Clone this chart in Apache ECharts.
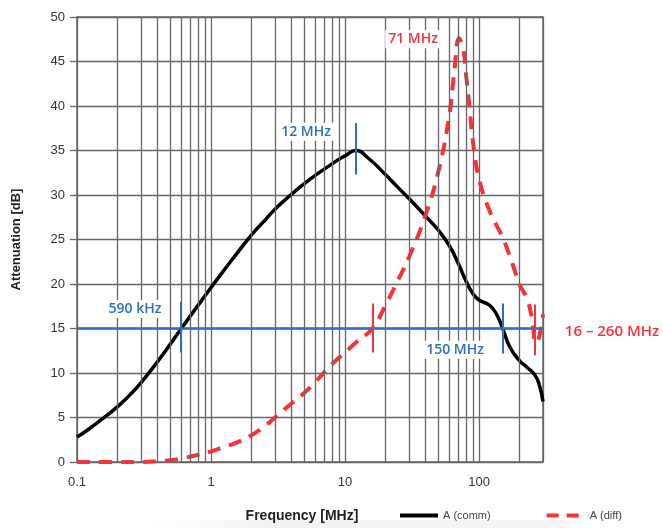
<!DOCTYPE html>
<html>
<head>
<meta charset="utf-8">
<script src="https://cdn.jsdelivr.net/npm/echarts@6/dist/echarts.min.js"></script>
<style>
  html, body { margin: 0; padding: 0; background: #fff; }
  #chart { width: 663px; height: 528px; }
</style>
</head>
<body>
<div id="chart"></div>
<script>
// common-mode attenuation
const freqComm = [0.1, 0.12, 0.15, 0.2, 0.25, 0.3, 0.4, 0.5, 0.6, 0.8, 1, 1.2, 1.5, 2, 2.5, 3, 4, 5, 6, 8, 10, 12, 15, 20, 25, 30, 40, 50, 60, 70, 80, 90, 100, 120, 135, 150, 170, 200, 230, 260, 280, 300];
const attComm = [2.8, 3.6, 4.7, 6.2, 7.6, 8.9, 11.3, 13.3, 15.0, 17.6, 19.6, 21.2, 23.1, 25.5, 27.1, 28.4, 30.1, 31.3, 32.2, 33.5, 34.4, 35.0, 34.1, 32.3, 30.8, 29.6, 27.6, 26.0, 24.3, 22.3, 20.3, 18.9, 18.2, 17.6, 16.6, 15.0, 12.9, 11.4, 10.6, 9.8, 8.8, 6.8];

// differential-mode attenuation
const freqDiff = [0.1, 0.2, 0.3, 0.4, 0.5, 0.6, 0.8, 1, 1.2, 1.5, 2, 2.5, 3, 4, 5, 6, 8, 10, 12, 16, 20, 25, 30, 40, 50, 60, 65, 71, 76, 80, 85, 90, 100, 120, 150, 180, 200, 230, 250, 265, 280, 300];
const attDiff = [0, 0, 0, 0.1, 0.2, 0.4, 0.8, 1.2, 1.6, 2.1, 3.0, 4.0, 5.0, 6.6, 7.8, 9.0, 11.0, 12.3, 13.4, 15.0, 17.6, 20.5, 23.0, 27.8, 32.8, 39.0, 43.5, 47.6, 46.5, 43.5, 39.8, 36.0, 31.8, 28.2, 25.2, 22.0, 20.0, 18.2, 15.8, 13.4, 14.0, 16.6];

const xTickLabels = [0.1, 1, 10, 100];
const minorFreqs = [0.2, 0.3, 0.4, 0.5, 0.6, 0.7, 0.8, 0.9, 2, 3, 4, 5, 6, 7, 8, 9, 20, 30, 40, 50, 60, 70, 80, 90, 200];

const limitLevel = 15;
const blueMarks = [0.59, 12, 150];
const redMarks = [16, 260];

const BLUE = '#2f6fba';
const RED = '#f4333a';
const GRID = '#666';

const chart = echarts.init(document.getElementById('chart'));

const zip = (xs, ys) => xs.map((x, i) => [x, ys[i]]);
const tick = (f, y0, y1, color) => [
  { coord: [f, y0], lineStyle: { color: color, width: 2, type: 'solid' } },
  { coord: [f, y1] }
];

const labelStyle = (text, color, size) => ({
  show: true,
  position: 'inside',
  formatter: text,
  color: color,
  fontSize: size,
  fontWeight: 600,
  fontFamily: 'Open Sans',
  backgroundColor: '#fff',
  padding: [2, 3]
});

const option = {
  animation: false,
  grid: {
    left: 77, right: 120, top: 17, bottom: 66,
    show: true, borderColor: GRID, borderWidth: 1.5
  },
  legend: {
    data: [
      { name: 'A (comm)', lineStyle: { width: 4 } },
      { name: 'A (diff)', lineStyle: { width: 4, type: [12, 8] } }
    ],
    left: 393, top: 505,
    itemWidth: 38, itemHeight: 14, itemGap: 54,
    itemStyle: { opacity: 0 },
    textStyle: { fontFamily: 'Liberation Sans', fontSize: 11, color: '#444' }
  },
  xAxis: {
    type: 'log', logBase: 10, min: 0.1, max: 300, interval: 1,
    name: 'Frequency [MHz]', nameLocation: 'middle', nameGap: 47,
    nameTextStyle: { fontFamily: 'Liberation Sans', fontSize: 14, fontWeight: 'bold', color: '#222', padding: [0, 16, 0, 0] },
    axisLine: { show: false },
    axisTick: { show: false },
    axisLabel: {
      margin: 14, fontFamily: 'Liberation Sans', fontSize: 13, color: '#333',
      formatter: v => {
        const m = xTickLabels.find(t => Math.abs(Math.log10(v) - Math.log10(t)) < 1e-6);
        return m !== undefined ? String(m) : '';
      }
    },
    splitLine: { show: true, lineStyle: { color: GRID, width: 1.3 } }
  },
  yAxis: {
    type: 'value', min: 0, max: 50, interval: 5,
    name: 'Attenuation [dB]', nameLocation: 'middle', nameGap: 54,
    nameTextStyle: { fontFamily: 'Liberation Sans', fontSize: 13, fontWeight: 'bold', color: '#222' },
    axisLine: { show: false },
    axisTick: { show: true, length: 7, lineStyle: { color: GRID, width: 1.3 } },
    axisLabel: { margin: 12, fontFamily: 'Liberation Sans', fontSize: 13, color: '#333' },
    splitLine: { show: true, lineStyle: { color: GRID, width: 1.3 } }
  },
  graphic: [
    {
      type: 'rect', left: 150, top: 520, z: -1,
      shape: { width: 420, height: 8 },
      style: {
        fill: new echarts.graphic.LinearGradient(0, 0, 1, 0, [
          { offset: 0, color: '#ffffff' },
          { offset: 0.3, color: '#f3f3f3' },
          { offset: 1, color: '#f6f6f6' }
        ])
      }
    },
    {
      type: 'text', x: 612, y: 332,
      style: {
        text: '16 – 260 MHz', fill: RED, fontSize: 15, fontWeight: 600,
        fontFamily: 'Open Sans', align: 'center', verticalAlign: 'middle'
      }
    }
  ],
  series: [
    {
      name: 'grid', type: 'line', data: [], z: 1, silent: true,
      markLine: {
        silent: true, symbol: ['none', 'none'], label: { show: false },
        lineStyle: { color: GRID, width: 1.3, type: 'solid' },
        data: minorFreqs.map(f => ({ xAxis: f }))
      }
    },
    {
      name: 'markers', type: 'line', data: [], z: 2, silent: true,
      markLine: {
        silent: true, symbol: ['none', 'none'], label: { show: false },
        data: [
          [
            { coord: [0.1, limitLevel], lineStyle: { color: BLUE, width: 2.5, type: 'solid' } },
            { coord: [300, limitLevel] }
          ],
          tick(blueMarks[0], 12.3, 18.0, BLUE),
          tick(blueMarks[1], 32.3, 38.1, BLUE),
          tick(blueMarks[2], 12.2, 17.8, BLUE),
          tick(redMarks[0], 12.3, 17.8, RED),
          tick(redMarks[1], 12.0, 17.7, RED)
        ]
      }
    },
    {
      name: 'A (comm)', type: 'line', data: zip(freqComm, attComm), z: 3,
      smooth: 0.5, symbol: 'none',
      color: '#000',
      lineStyle: { color: '#000', width: 3.5 }
    },
    {
      name: 'A (diff)', type: 'line', data: zip(freqDiff, attDiff), z: 4,
      smooth: 0.45, symbol: 'none',
      color: RED,
      lineStyle: { color: RED, width: 4, type: [13, 9] }
    },
    {
      name: 'labels', type: 'line', data: [], z: 6, silent: true,
      markPoint: {
        symbol: 'rect', symbolSize: 1, silent: true,
        itemStyle: { color: 'rgba(0,0,0,0)' },
        data: [
          { coord: [0.271, 17.2], label: labelStyle('590 kHz', BLUE, 14) },
          { coord: [5.12, 37.1], label: labelStyle('12 MHz', BLUE, 14) },
          { coord: [66.2, 12.6], label: labelStyle('150 MHz', BLUE, 14) },
          { coord: [32.2, 47.5], label: labelStyle('71 MHz', RED, 14) }
        ]
      }
    }
  ]
};

chart.setOption(option);
window.addEventListener('resize', chart.resize);
</script>
</body>
</html>
